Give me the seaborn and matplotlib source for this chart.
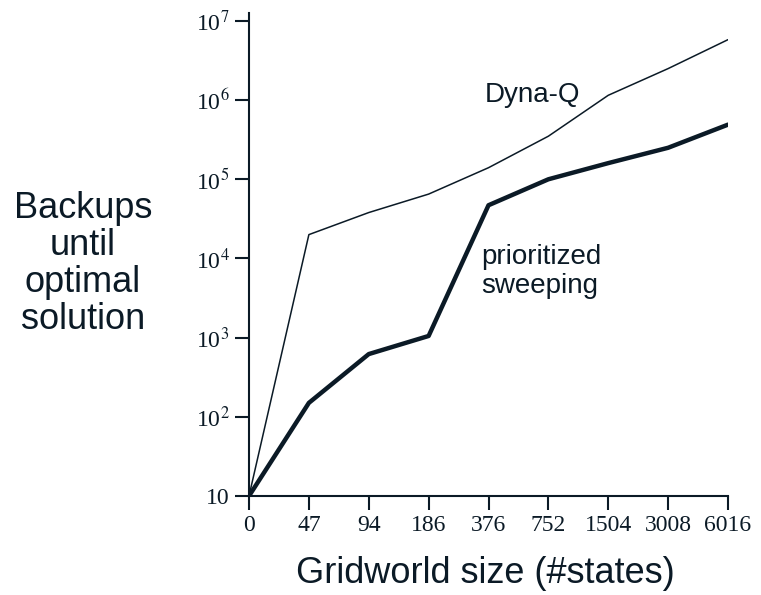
import numpy as np
import pandas as pd
import matplotlib
matplotlib.use("Agg")
import matplotlib.pyplot as plt
import seaborn as sns

# gridworld sizes (equally spaced categories on the x axis)
SIZES = ['0', '47', '94', '186', '376', '752', '1504', '3008', '6016']
# backups until optimal solution
DYNA_Q = [10, 2.0e4, 3.8e4, 6.5e4, 1.4e5, 3.5e5, 1.15e6, 2.5e6, 5.8e6]
PRIORITIZED = [10, 150, 620, 1050, 4.7e4, 1.0e5, 1.6e5, 2.5e5, 4.9e5]

Y_TICKS = [10, 1e2, 1e3, 1e4, 1e5, 1e6, 1e7]
Y_LABELS = ['10', '10$^{2}$', '10$^{3}$', '10$^{4}$', '10$^{5}$', '10$^{6}$', '10$^{7}$']

INK = '#0b1a26'

sns.set_style("white")
plt.rcParams['font.family'] = ['Liberation Sans', 'DejaVu Sans']
plt.rcParams['mathtext.fontset'] = 'stix'

df = pd.DataFrame({
    'pos': np.arange(len(SIZES)),
    'Dyna-Q': DYNA_Q,
    'prioritized sweeping': PRIORITIZED,
})

fig = plt.figure(figsize=(7.61, 5.95), dpi=100)
ax = fig.add_axes([249 / 761, 1 - 496 / 595, (728 - 249) / 761, (496 - 13) / 595])

sns.lineplot(data=df, x='pos', y='Dyna-Q', ax=ax, color=INK, linewidth=1.1)
sns.lineplot(data=df, x='pos', y='prioritized sweeping', ax=ax, color=INK, linewidth=3.2)

ax.set_yscale('log')
ax.set_xlim(0, len(SIZES) - 1)
ax.set_ylim(10, 10 ** 7.1)
ax.set_xticks(df['pos'])
ax.set_xticklabels(SIZES, family='Liberation Serif', fontsize=17)
ax.set_yticks(Y_TICKS)
ax.set_yticklabels(Y_LABELS, family='Liberation Serif', fontsize=17)
ax.minorticks_off()
ax.tick_params(axis='both', direction='out', length=10, width=1.5, color=INK,
               labelcolor=INK, left=True, bottom=True)
ax.tick_params(axis='x', pad=4)
ax.tick_params(axis='y', pad=4)

for side in ['top', 'right']:
    ax.spines[side].set_visible(False)
for side in ['left', 'bottom']:
    ax.spines[side].set_color(INK)
    ax.spines[side].set_linewidth(1.5)

ax.set_xlabel('Gridworld size (#states)', fontsize=26, color=INK, va='baseline')
ax.xaxis.set_label_coords((485 - 249) / 479, (496 - 583) / 483)
ax.set_ylabel('Backups\nuntil\noptimal\nsolution', fontsize=26, color=INK,
              rotation=0, ha='center', va='baseline', linespacing=1.08)
ax.yaxis.set_label_coords((83 - 249) / 479, (496 - 327) / 483)

ax.text(485 / 761, 1 - 102 / 595, 'Dyna-Q', transform=fig.transFigure,
        fontsize=20, color=INK, ha='left', va='baseline')
ax.text(481 / 761, 1 - 293 / 595, 'prioritized\nsweeping', transform=fig.transFigure,
        fontsize=20, color=INK, ha='left', va='baseline', linespacing=1.15)

fig.savefig('out.png', dpi=100)
